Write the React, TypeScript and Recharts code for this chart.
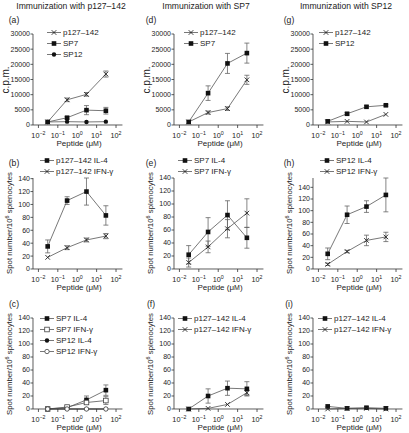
import React from 'react';
import { LineChart, Line, XAxis, YAxis, ErrorBar, Legend } from 'recharts';

const doses = [0.03, 0.3, 3, 30];
const xTicks = [0.01, 0.1, 1, 10, 100];
const xLogMin = -2.28;
const xLogMax = 2.33;
const xDomain = [Math.pow(10, xLogMin), Math.pow(10, xLogMax)];
const cpmTicks = [0, 5000, 10000, 15000, 20000, 25000, 30000];
const spotTicks = [0, 20, 40, 60, 80, 100, 120, 140];

const titles = ['Immunization with p127\u2013142', 'Immunization with SP7', 'Immunization with SP12'];
const panelLetters = ['(a)', '(b)', '(c)', '(d)', '(e)', '(f)', '(g)', '(h)', '(i)'];

// (a) immunization p127-142, proliferation
const aP127 = [1000, 8300, 10100, 16800];
const aP127Err = [null, 600, 600, 1000];
const aSP7 = [1000, 2400, 4900, 4700];
const aSP7Err = [null, 400, 1500, 1100];
const aSP12 = [1000, 1100, 1000, 1100];
const aSP12Err = [null, null, null, null];

// (b) immunization p127-142, ELISPOT
const bIL4 = [35, 106, 120, 83];
const bIL4Err = [10, 6, 21, 15];
const bIFN = [18, 33, 45, 51];
const bIFNErr = [null, 3, 3, 4];

// (c) immunization p127-142, ELISPOT with SP7 / SP12
const cSP7IL4 = [0, 2, 14, 29];
const cSP7IL4Err = [null, null, 6, 8];
const cSP7IFN = [0, 3, 10, 13];
const cSP7IFNErr = [null, null, 3, 6];
const cSP12IL4 = [0, 0, 0, 0];
const cSP12IFN = [0, 0, 0, 0];

// (d) immunization SP7, proliferation
const dP127 = [1000, 4100, 5400, 14900];
const dP127Err = [null, 500, 600, 1500];
const dSP7 = [1000, 10500, 20300, 23700];
const dSP7Err = [null, 2400, 3300, 3300];

// (e) immunization SP7, ELISPOT
const eIL4 = [22, 57, 83, 48];
const eIL4Err = [14, 22, 22, 16];
const eIFN = [10, 34, 62, 86];
const eIFNErr = [7, 9, 14, 22];

// (f) immunization SP7, ELISPOT with p127-142
const fIL4 = [0, 20, 32, 31];
const fIL4Err = [null, 11, 11, 11];
const fIFN = [0, 1, 7, 25];
const fIFNErr = [null, null, null, 4];

// (g) immunization SP12, proliferation
const gP127 = [1000, 1200, 1000, 3500];
const gSP12 = [1200, 3700, 6000, 6500];
const gSP12Err = [null, 400, 400, 300];

// (h) immunization SP12, ELISPOT
const hIL4 = [26, 93, 107, 127];
const hIL4Err = [10, 15, 10, 29];
const hIFN = [8, 30, 49, 55];
const hIFNErr = [2, 2, 9, 8];

// (i) immunization SP12, ELISPOT with p127-142
const iIL4 = [4, 1, 2, 1];
const iIFN = [0, 1, 1, 0];

type Kind = 'square' | 'cross' | 'circle' | 'openSquare' | 'openCircle';
type Series = { name: string; values: number[]; errors?: (number | null)[]; kind: Kind };

const FONT = '"Liberation Sans", Arial, Helvetica, sans-serif';
const INK = '#222';

function marker(kind: Kind, cx: number, cy: number, key: string) {
  const s = 2.3;
  switch (kind) {
    case 'square':
      return <rect key={key} x={cx - s} y={cy - s} width={2 * s} height={2 * s} fill="#111" />;
    case 'openSquare':
      return <rect key={key} x={cx - s} y={cy - s} width={2 * s} height={2 * s} fill="#fff" stroke="#444" strokeWidth={0.8} />;
    case 'circle':
      return <circle key={key} cx={cx} cy={cy} r={2.2} fill="#111" />;
    case 'openCircle':
      return <circle key={key} cx={cx} cy={cy} r={2.2} fill="#fff" stroke="#444" strokeWidth={0.8} />;
    default:
      return (
        <path key={key} d={`M${cx - s},${cy - s}L${cx + s},${cy + s}M${cx - s},${cy + s}L${cx + s},${cy - s}`} stroke="#222" strokeWidth={0.9} fill="none" />
      );
  }
}

const LogTick = (props: any) => {
  const { x, y, payload } = props;
  const exp = Math.round(Math.log10(payload.value));
  const e = exp < 0 ? '\u2212' + Math.abs(exp) : String(exp);
  return (
    <text x={x} y={y + 8} textAnchor="middle" fontSize={7.3} fill={INK} fontFamily={FONT}>
      <tspan>10</tspan>
      <tspan dy={-3} fontSize={5.3}>{e}</tspan>
    </text>
  );
};

const axisX = [33, 174, 313];
const plotTop = [34, 177.5, 318];
const plotH = 91;
const decade = 19.4;
const plotW = (xLogMax - xLogMin) * decade;
const yAxisW = 32;
const mTop = 8;
const mRight = 14;
const xAxisH = 30;

type PanelProps = {
  col: number;
  row: number;
  series: Series[];
  yMax: number;
  yTicks: number[];
  legendX: number;
  legendY: number;
};

function Panel({ col, row, series, yMax, yTicks, legendX, legendY }: PanelProps) {
  const left = axisX[col] - yAxisW;
  const top = plotTop[row] - mTop;
  const width = yAxisW + plotW + mRight;
  const height = mTop + plotH + xAxisH;
  const data = doses.map((d, i) => {
    const o: any = { dose: d };
    series.forEach((s, k) => {
      o['s' + k] = s.values[i];
      const e = s.errors ? s.errors[i] : null;
      o['e' + k] = e == null ? undefined : e;
    });
    return o;
  });
  const legendContent = () => (
    <div style={{ fontFamily: FONT, fontSize: 8, color: INK, lineHeight: '11px' }}>
      {series.map((s, k) => (
        <div key={k} style={{ display: 'flex', alignItems: 'center', height: 11, whiteSpace: 'nowrap' }}>
          <svg width={14} height={11} style={{ marginRight: 2 }}>
            <line x1={0} y1={5.5} x2={14} y2={5.5} stroke="#555" strokeWidth={0.8} />
            {marker(s.kind, 7, 5.5, 'm')}
          </svg>
          <span>{s.name}</span>
        </div>
      ))}
    </div>
  );
  return (
    <div style={{ position: 'absolute', left, top }}>
      <LineChart width={width} height={height} data={data} margin={{ top: mTop, right: mRight, left: 0, bottom: 0 }}>
        <XAxis
          dataKey="dose"
          type="number"
          scale="log"
          domain={xDomain}
          ticks={xTicks}
          interval={0}
          allowDataOverflow
          tick={<LogTick />}
          tickSize={3}
          height={xAxisH}
          stroke="#333"
          strokeWidth={0.8}
        />
        <YAxis
          type="number"
          domain={[0, yMax]}
          ticks={yTicks}
          interval={0}
          width={yAxisW}
          tickSize={2.5}
          tickMargin={0.5}
          tick={{ fontSize: 7, fill: INK, fontFamily: FONT }}
          stroke="#333"
          strokeWidth={0.8}
        />
        <Legend
          layout="vertical"
          align="center"
          verticalAlign="middle"
          content={legendContent}
          wrapperStyle={{ left: legendX - left, top: legendY - top, width: 'auto', height: 'auto' }}
        />
        {series.map((s, k) => (
          <Line
            key={k}
            dataKey={'s' + k}
            name={s.name}
            stroke="#555"
            strokeWidth={0.8}
            isAnimationActive={false}
            dot={(p: any) => marker(s.kind, p.cx, p.cy, `d${k}-${p.index}`)}
            activeDot={false}
          >
            {s.errors ? <ErrorBar dataKey={'e' + k} width={2.5} stroke="#666" strokeWidth={0.8} direction="y" /> : null}
          </Line>
        ))}
      </LineChart>
    </div>
  );
}

const P = 'p127\u2013142';

export default function App() {
  const panels: PanelProps[] = [
    {
      col: 0, row: 0, yMax: 30000, yTicks: cpmTicks, legendX: 47, legendY: 27,
      series: [
        { name: P, values: aP127, errors: aP127Err, kind: 'cross' },
        { name: 'SP7', values: aSP7, errors: aSP7Err, kind: 'square' },
        { name: 'SP12', values: aSP12, errors: aSP12Err, kind: 'circle' },
      ],
    },
    {
      col: 0, row: 1, yMax: 140, yTicks: spotTicks, legendX: 40, legendY: 155,
      series: [
        { name: P + ' IL-4', values: bIL4, errors: bIL4Err, kind: 'square' },
        { name: P + ' IFN-\u03b3', values: bIFN, errors: bIFNErr, kind: 'cross' },
      ],
    },
    {
      col: 0, row: 2, yMax: 140, yTicks: spotTicks, legendX: 40, legendY: 313,
      series: [
        { name: 'SP7 IL-4', values: cSP7IL4, errors: cSP7IL4Err, kind: 'square' },
        { name: 'SP7 IFN-\u03b3', values: cSP7IFN, errors: cSP7IFNErr, kind: 'openSquare' },
        { name: 'SP12 IL-4', values: cSP12IL4, kind: 'circle' },
        { name: 'SP12 IFN-\u03b3', values: cSP12IFN, kind: 'openCircle' },
      ],
    },
    {
      col: 1, row: 0, yMax: 30000, yTicks: cpmTicks, legendX: 184, legendY: 27,
      series: [
        { name: P, values: dP127, errors: dP127Err, kind: 'cross' },
        { name: 'SP7', values: dSP7, errors: dSP7Err, kind: 'square' },
      ],
    },
    {
      col: 1, row: 1, yMax: 140, yTicks: spotTicks, legendX: 178, legendY: 155,
      series: [
        { name: 'SP7 IL-4', values: eIL4, errors: eIL4Err, kind: 'square' },
        { name: 'SP7 IFN-\u03b3', values: eIFN, errors: eIFNErr, kind: 'cross' },
      ],
    },
    {
      col: 1, row: 2, yMax: 140, yTicks: spotTicks, legendX: 178, legendY: 313,
      series: [
        { name: P + ' IL-4', values: fIL4, errors: fIL4Err, kind: 'square' },
        { name: P + ' IFN-\u03b3', values: fIFN, errors: fIFNErr, kind: 'cross' },
      ],
    },
    {
      col: 2, row: 0, yMax: 30000, yTicks: cpmTicks, legendX: 319, legendY: 27,
      series: [
        { name: P, values: gP127, kind: 'cross' },
        { name: 'SP12', values: gSP12, errors: gSP12Err, kind: 'square' },
      ],
    },
    {
      col: 2, row: 1, yMax: 140, yTicks: spotTicks, legendX: 320, legendY: 155,
      series: [
        { name: 'SP12 IL-4', values: hIL4, errors: hIL4Err, kind: 'square' },
        { name: 'SP12 IFN-\u03b3', values: hIFN, errors: hIFNErr, kind: 'cross' },
      ],
    },
    {
      col: 2, row: 2, yMax: 140, yTicks: spotTicks, legendX: 318, legendY: 313,
      series: [
        { name: P + ' IL-4', values: iIL4, kind: 'square' },
        { name: P + ' IFN-\u03b3', values: iIFN, kind: 'cross' },
      ],
    },
  ];

  const text = (content: React.ReactNode, x: number, y: number, size: number, rotate = false, key?: string) => (
    <div
      key={key}
      style={{
        position: 'absolute',
        left: x,
        top: y,
        transform: `translate(-50%, -50%)${rotate ? ' rotate(-90deg)' : ''}`,
        fontSize: size,
        fontFamily: FONT,
        color: INK,
        whiteSpace: 'nowrap',
        lineHeight: 1,
      }}
    >
      {content}
    </div>
  );

  const titleX = [71, 206, 346];
  const letterX = [14, 151, 289];
  const letterY = [20, 163, 304];
  const peptideY = [144, 288, 428];

  return (
    <div style={{ position: 'absolute', left: 0, top: 0, width: 409, height: 433, background: '#fff', overflow: 'hidden' }}>
      {titles.map((t, i) => text(t, titleX[i], 6, 8.6, false, 't' + i))}
      {panelLetters.map((l, i) => text(l, letterX[Math.floor(i / 3)], letterY[i % 3], 8.6, false, 'l' + i))}
      {[0, 1, 2].map((c) =>
        [0, 1, 2].map((r) => (
          <React.Fragment key={`lab${c}${r}`}>
            {text(<span>Peptide ({'\u03bc'}<span style={{ fontSize: 7 }}>M</span>)</span>, axisX[c] + 46, peptideY[r], 8)}
            {r === 0
              ? text('c.p.m.', axisX[c] - 27, plotTop[r] + plotH / 2, 10, true)
              : text(
                  <span>
                    Spot number/10<sup style={{ fontSize: 5.5, verticalAlign: 'super', lineHeight: 0 }}>6</sup> splenocytes
                  </span>,
                  axisX[c] - 23.5,
                  plotTop[r] + plotH / 2,
                  7.8,
                  true
                )}
          </React.Fragment>
        ))
      )}
      {panels.map((p, i) => (
        <Panel key={i} {...p} />
      ))}
    </div>
  );
}
